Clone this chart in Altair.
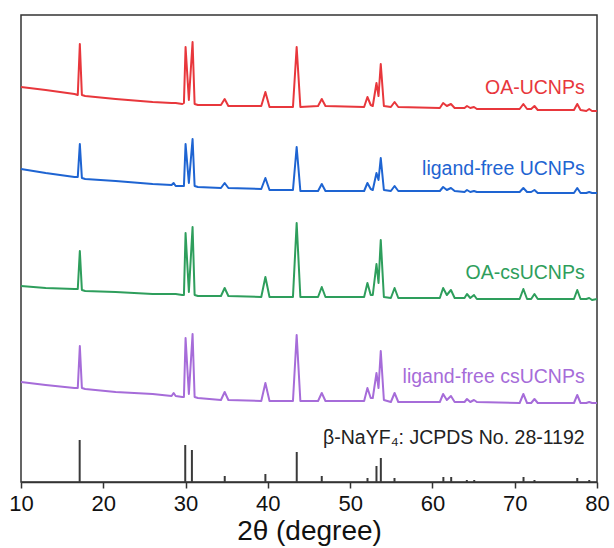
import altair as alt
import pandas as pd

# ---- data (intensity in arbitrary units, curves already offset) ----
two_theta = [10, 13, 16.5, 16.9, 17.15, 17.4, 17.8, 21.5, 26, 28.3, 28.55, 28.8, 29.6, 29.8,
             30.0, 30.4, 30.85, 31.1, 31.5, 34.3, 34.75, 35.2, 39.2, 39.7, 40.2, 43.05, 43.5,
             43.95, 46.1, 46.55, 47.0, 51.7, 52.1, 52.5, 52.75, 53.2, 53.45, 53.72, 54.1, 54.95,
             55.4, 55.85, 60.9, 61.3, 61.75, 62.25, 62.7, 63.9, 64.2, 64.6, 65.05, 65.4, 70.6,
             71.05, 71.5, 72.0, 72.4, 72.8, 77.2, 77.6, 78.0, 78.7, 79.05, 79.4, 80]

oa_ucnps = [395, 392, 388, 387, 438, 387, 386, 383, 380, 379, 379, 379, 378, 379,
            435, 382, 440, 378, 377, 377, 383, 376, 376, 390, 375, 375, 435,
            375, 376, 383, 376, 375, 385, 377, 376, 399, 386, 418, 376, 375,
            380, 375, 374, 379, 376, 378, 374, 374, 376, 374, 375, 373, 373,
            378, 373, 373, 376, 372, 372, 378, 372, 371, 373, 371, 371]

lf_ucnps = [313, 309, 305, 305, 338, 304, 303, 301, 298, 297, 299, 296, 296, 296,
            338, 299, 343, 296, 295, 294, 299, 294, 293, 304, 292, 292, 335,
            291, 291, 298, 291, 291, 299, 293, 292, 309, 302, 324, 292, 291,
            296, 291, 291, 295, 292, 294, 291, 290, 292, 290, 291, 290, 290,
            294, 290, 290, 292, 289, 289, 294, 289, 289, 290, 289, 289]

oa_csucnps = [196, 194, 193, 193, 231, 192, 191, 190, 188, 188, 188, 188, 187, 187,
              249, 190, 255, 187, 186, 186, 194, 186, 185, 205, 185, 185, 259,
              185, 185, 195, 185, 185, 199, 187, 187, 218, 199, 242, 185, 184,
              194, 184, 184, 194, 187, 192, 184, 184, 188, 184, 187, 183, 183,
              193, 183, 183, 188, 183, 183, 192, 183, 183, 184, 182, 183]

lf_csucnps = [100, 97, 94, 94, 136, 94, 93, 90, 88, 86, 89, 86, 85, 85,
              144, 88, 148, 85, 84, 82, 90, 82, 81, 99, 81, 81, 147,
              81, 81, 89, 81, 81, 94, 84, 84, 109, 94, 131, 82, 80,
              89, 80, 80, 88, 82, 86, 80, 80, 83, 80, 82, 80, 79,
              88, 79, 79, 83, 79, 79, 87, 79, 79, 80, 79, 79]

series_names = ["OA-UCNPs", "ligand-free UCNPs", "OA-csUCNPs", "ligand-free csUCNPs"]
series_colors = ["#E8373C", "#1E64D2", "#2E9E5C", "#A66CD9"]

# reference pattern (beta-NaYF4, JCPDS 28-1192)
ref_pos = [17.13, 29.96, 30.77, 34.76, 39.7, 43.51, 46.55, 52.11, 53.2, 53.73, 55.39,
           61.33, 62.28, 64.18, 65.08, 71.07, 72.4, 77.6, 79.06]
ref_int = [42, 37, 32, 6, 8, 30, 6, 4, 16, 24, 4, 5, 5, 2, 2, 5, 2, 4, 2]

ref_label = "β-NaYF₄: JCPDS No. 28-1192"
ref_color = "#222222"
label_x = 78.5
label_y = [394, 313, 209, 105]
ref_label_y = 44

# ---- tables ----
rows = []
for name, ys in zip(series_names, [oa_ucnps, lf_ucnps, oa_csucnps, lf_csucnps]):
    for t, v in zip(two_theta, ys):
        rows.append({"theta": t, "intensity": v, "series": name})
df = pd.DataFrame(rows)

ref_df = pd.DataFrame({"pos": ref_pos, "top": ref_int, "base": [0] * len(ref_pos)})

lab_df = pd.DataFrame({
    "x": [label_x] * 5,
    "y": label_y + [ref_label_y],
    "series": series_names + [ref_label],
})

FONT = "Liberation Sans"
x_scale = alt.Scale(domain=[10, 80], nice=False)
y_scale = alt.Scale(domain=[0, 467], nice=False, zero=False)
c_scale = alt.Scale(domain=series_names + [ref_label], range=series_colors + [ref_color])

x_axis = alt.Axis(values=[10, 20, 30, 40, 50, 60, 70, 80], title="2θ (degree)", grid=False,
                  format="d", labelFlush=False, labelOverlap=False)

lines = alt.Chart(df).mark_line(strokeWidth=2, strokeJoin="round").encode(
    x=alt.X("theta:Q", scale=x_scale, axis=x_axis),
    y=alt.Y("intensity:Q", scale=y_scale, axis=None),
    color=alt.Color("series:N", scale=c_scale, legend=None),
)

sticks = alt.Chart(ref_df).mark_rule(color="#3a3a3a", strokeWidth=2).encode(
    x=alt.X("pos:Q"),
    y=alt.Y("base:Q"),
    y2="top:Q",
)

labels = alt.Chart(lab_df).mark_text(align="right", baseline="middle", fontSize=19.5,
                                      font=FONT).encode(
    x=alt.X("x:Q"),
    y=alt.Y("y:Q"),
    text="series:N",
    color=alt.Color("series:N", scale=c_scale, legend=None),
)

chart = alt.layer(lines, sticks, labels).properties(
    width=576, height=467,
    autosize=alt.AutoSizeParams(type="none"),
    padding={"left": 21, "top": 15, "right": 17, "bottom": 66},
).configure_view(
    stroke="#333333", strokeWidth=1.5
).configure_axis(
    domainColor="#333333", domainWidth=1.5, tickColor="#333333", tickWidth=1.5, tickSize=6,
    labelFont=FONT, labelFontSize=22, labelColor="#111111", labelPadding=5,
    titleFont=FONT, titleFontSize=28, titleFontWeight="normal", titleColor="#111111",
    titlePadding=3,
)

chart.save("out.html", embed_options={"renderer": "svg", "actions": False})
